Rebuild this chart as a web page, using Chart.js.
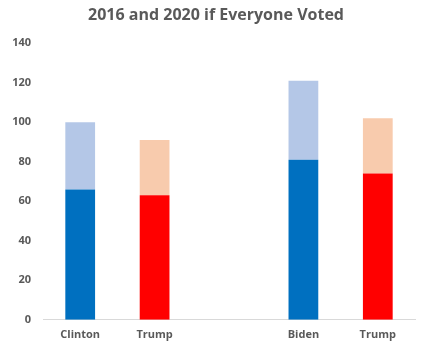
<!DOCTYPE html>
<html>
<head>
<meta charset="utf-8">
<script src="https://cdn.jsdelivr.net/npm/chart.js@4"></script>
<style>
html,body{margin:0;padding:0;background:#fff;}
#wrap{width:425px;height:351px;}
</style>
</head>
<body>
<div id="wrap"><canvas id="c" width="425" height="351"></canvas></div>
<script>
const categories = ["Clinton", "Trump", "", "Biden", "Trump"];
const baseValues = [66, 63, null, 81, 74];
const extraValues = [34, 28, null, 40, 28];
const baseColors = ["#0070C0", "#FF0000", "#0070C0", "#0070C0", "#FF0000"];
const extraColors = ["#B4C7E7", "#F8CBAD", "#B4C7E7", "#B4C7E7", "#F8CBAD"];
const yTicks = { min: 0, max: 140, step: 20 };

const shiftTitle = {
  id: 'shiftTitle',
  afterLayout(chart) {
    if (chart.titleBlock) { chart.titleBlock.left = 17; }
  }
};

new Chart(document.getElementById('c'), {
  type: 'bar',
  plugins: [shiftTitle],
  data: {
    labels: categories,
    datasets: [
      { label: 'Voted', data: baseValues, backgroundColor: baseColors, barPercentage: 0.4, categoryPercentage: 1 },
      { label: 'Everyone', data: extraValues, backgroundColor: extraColors, barPercentage: 0.4, categoryPercentage: 1 }
    ]
  },
  options: {
    responsive: false,
    animation: false,
    layout: { padding: { left: 0, right: 10, top: 0, bottom: 2 } },
    plugins: {
      legend: { display: false },
      tooltip: { enabled: false },
      title: {
        display: true,
        text: '2016 and 2020 if Everyone Voted',
        color: '#595959',
        font: { family: 'Open Sans', size: 16, weight: 'bold' },
        padding: { top: 6, bottom: 18 }
      }
    },
    scales: {
      x: {
        stacked: true,
        grid: { display: false, drawTicks: false },
        border: { display: true, color: '#D9D9D9', width: 1 },
        ticks: { color: '#595959', font: { family: 'Open Sans', size: 11, weight: 'bold' }, padding: 8 }
      },
      y: {
        stacked: true,
        min: yTicks.min,
        max: yTicks.max,
        grid: { display: false, drawTicks: false },
        border: { display: false },
        ticks: { stepSize: yTicks.step, color: '#595959', font: { family: 'Open Sans', size: 11, weight: 'bold' }, padding: 12 },
        afterFit: (s) => { s.width = 43; }
      }
    }
  }
});
</script>
</body>
</html>
